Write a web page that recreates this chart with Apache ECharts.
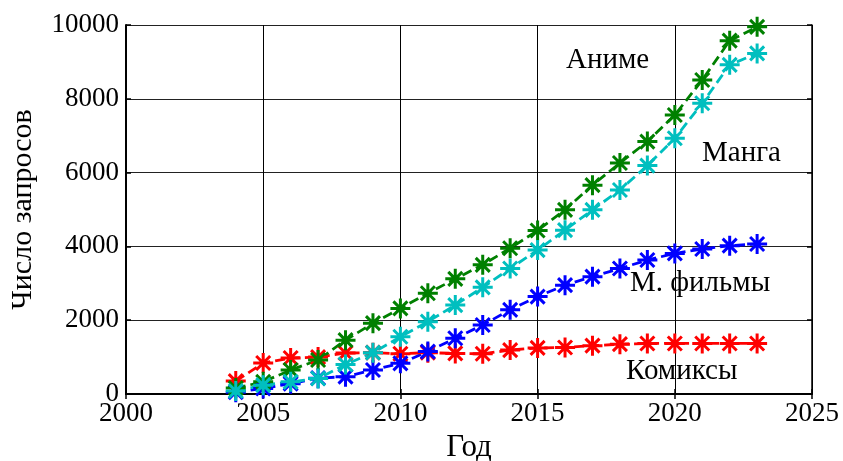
<!DOCTYPE html>
<html>
<head>
<meta charset="utf-8">
<script src="https://cdn.jsdelivr.net/npm/echarts@6/dist/echarts.min.js"></script>
<style>
  html, body { margin: 0; padding: 0; background: #fff; }
  #chart { width: 843px; height: 461px; }
</style>
</head>
<body>
<div id="chart"></div>
<script>
const years = [2004, 2005, 2006, 2007, 2008, 2009, 2010, 2011, 2012, 2013,
               2014, 2015, 2016, 2017, 2018, 2019, 2020, 2021, 2022, 2023]

const anime = [160, 330, 650, 920, 1460, 1920, 2320, 2730, 3120, 3500,
               3950, 4430, 4990, 5660, 6260, 6840, 7560, 8510, 9575, 9950]
const manga = [80, 240, 330, 420, 800, 1120, 1550, 1960, 2410, 2890,
               3400, 3900, 4440, 4990, 5530, 6190, 6930, 7880, 8920, 9230]
const films = [50, 150, 280, 430, 470, 650, 830, 1150, 1510, 1870,
               2280, 2640, 2950, 3180, 3400, 3630, 3810, 3930, 4020, 4065]
const comics = [350, 840, 975, 1000, 1110, 1120, 1090, 1120, 1100, 1090,
                1190, 1250, 1260, 1310, 1350, 1370, 1370, 1370, 1370, 1370]

const xTicks = [2000, 2005, 2010, 2015, 2020, 2025]
const yTicks = [0, 2000, 4000, 6000, 8000, 10000]

const serif = '"Liberation Serif", "DejaVu Serif", serif'
const asterisk = 'path://M10 0L10 20M0 10L20 10M3 3L17 17M17 3L3 17'

function makeSeries(name, values, color) {
  return {
    name: name,
    type: 'line',
    data: years.map((y, i) => [y, values[i]]),
    symbol: asterisk,
    symbolSize: 20,
    itemStyle: { color: 'rgba(0,0,0,0)', borderColor: color, borderWidth: 3 },
    lineStyle: { color: color, width: 2.8, type: [10, 5] },
    emphasis: { disabled: true },
    animation: false,
  }
}

const chart = echarts.init(document.getElementById('chart'))

const tickStyle = { show: true, inside: true, length: 5, lineStyle: { color: '#000', width: 1.5 } }
const plain = v => String(v)

chart.setOption({
  backgroundColor: '#fff',
  grid: { left: 126, right: 31, top: 25, bottom: 67, outerBoundsMode: 'none', containLabel: false },
  xAxis: [
    {
      type: 'value',
      min: xTicks[0],
      max: xTicks[xTicks.length - 1],
      interval: 5,
      name: 'Год',
      nameLocation: 'middle',
      nameGap: 38,
      nameTextStyle: { fontFamily: serif, fontSize: 31, color: '#000' },
      axisLine: { lineStyle: { color: '#000', width: 2 } },
      axisTick: tickStyle,
      axisLabel: { fontFamily: serif, fontSize: 27, color: '#000', margin: 6, formatter: plain },
      splitLine: { show: true, lineStyle: { color: '#000', width: 1 } },
    },
    {
      type: 'value',
      position: 'top',
      min: xTicks[0],
      max: xTicks[xTicks.length - 1],
      interval: 5,
      axisLine: { show: true, lineStyle: { color: '#000', width: 1.5 } },
      axisTick: tickStyle,
      axisLabel: { show: false },
      splitLine: { show: false },
    },
  ],
  yAxis: [
    {
      type: 'value',
      min: yTicks[0],
      max: yTicks[yTicks.length - 1],
      interval: 2000,
      name: 'Число запросов',
      nameLocation: 'middle',
      nameGap: 88,
      nameTextStyle: { fontFamily: serif, fontSize: 30, color: '#000' },
      axisLine: { show: true, lineStyle: { color: '#000', width: 2 } },
      axisTick: tickStyle,
      axisLabel: { fontFamily: serif, fontSize: 27, color: '#000', margin: 7, formatter: plain },
      splitLine: { show: true, lineStyle: { color: '#222', width: 1 } },
    },
    {
      type: 'value',
      position: 'right',
      min: yTicks[0],
      max: yTicks[yTicks.length - 1],
      interval: 2000,
      axisLine: { show: true, lineStyle: { color: '#000', width: 1.5 } },
      axisTick: tickStyle,
      axisLabel: { show: false },
      splitLine: { show: false },
    },
  ],
  graphic: [
    { type: 'text', left: 566, top: 46, style: { text: 'Аниме', font: '29px ' + serif, fill: '#000' } },
    { type: 'text', left: 702, top: 139, style: { text: 'Манга', font: '29px ' + serif, fill: '#000' } },
    { type: 'text', left: 630, top: 269, style: { text: 'М. фильмы', font: '29px ' + serif, fill: '#000' } },
    { type: 'text', left: 626, top: 357, style: { text: 'Комиксы', font: '29px ' + serif, fill: '#000' } },
  ],
  series: [
    makeSeries('Комиксы', comics, '#ff0000'),
    makeSeries('М. фильмы', films, '#0000ff'),
    makeSeries('Аниме', anime, '#008000'),
    makeSeries('Манга', manga, '#00bfbf'),
  ],
})
</script>
</body>
</html>
